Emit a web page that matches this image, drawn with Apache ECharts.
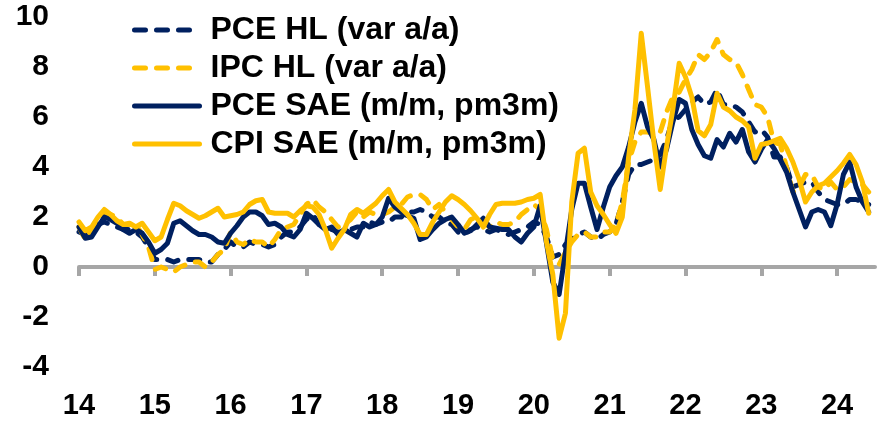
<!DOCTYPE html>
<html><head><meta charset="utf-8">
<script src="https://cdn.jsdelivr.net/npm/echarts@6/dist/echarts.min.js"></script>
<style>html,body{margin:0;padding:0;background:#fff}#c{width:884px;height:425px}</style>
</head><body><div id="c"></div>
<script>
// Year tick labels (one every 12 months, Jan of each year)
const yearLabels = ['14','15','16','17','18','19','20','21','22','23','24'];
const monthsInLastYear = 7; // axis runs to Jul-24

// Monthly data Jan-2014 .. Jun-2024
const pceHL = [
 1.4,1.3,1.5,1.7,1.8,1.7,1.6,1.5,1.5,1.4,1.2,0.8,
 0.3,0.3,0.3,0.2,0.3,0.3,0.3,0.3,0.2,0.2,0.5,0.7,
 1.0,0.8,0.8,1.0,0.9,0.9,0.8,0.9,1.2,1.4,1.4,1.6,
 1.9,2.1,1.7,1.7,1.5,1.4,1.4,1.5,1.6,1.6,1.8,1.7,
 1.8,1.8,2.0,2.0,2.2,2.2,2.3,2.2,2.0,2.0,1.8,1.7,
 1.4,1.3,1.5,1.6,1.5,1.4,1.5,1.4,1.3,1.4,1.5,1.6,
 1.8,1.7,1.2,0.4,0.5,0.9,1.1,1.3,1.4,1.2,1.1,1.3,
 1.4,1.7,2.6,3.7,4.1,4.1,4.2,4.3,4.5,5.1,5.9,6.0,
 6.3,6.6,6.8,6.5,6.6,7.1,6.5,6.5,6.4,6.2,5.8,5.4,
 5.5,5.2,4.4,4.4,4.0,3.2,3.3,3.4,3.4,3.0,2.7,2.6,
 2.5,2.5,2.7,2.7,2.6,2.5
];
const ipcHL = [
 1.6,1.1,1.5,2.0,2.1,2.1,2.0,1.7,1.7,1.7,1.3,0.8,
 -0.1,0.0,-0.1,-0.2,0.0,0.1,0.2,0.2,0.0,0.2,0.5,0.7,
 1.4,1.0,0.9,1.1,1.0,1.0,0.8,1.1,1.5,1.6,1.7,2.1,
 2.5,2.7,2.4,2.2,1.9,1.6,1.7,1.9,2.2,2.0,2.2,2.1,
 2.1,2.2,2.4,2.5,2.8,2.9,2.9,2.7,2.3,2.5,2.2,1.9,
 1.6,1.5,1.9,2.0,1.8,1.6,1.8,1.7,1.7,1.8,2.1,2.3,
 2.5,2.3,1.5,0.3,0.1,0.6,1.0,1.3,1.4,1.2,1.2,1.4,
 1.4,1.7,2.6,4.2,5.0,5.4,5.4,5.3,5.4,6.2,6.8,7.0,
 7.5,7.9,8.5,8.3,8.6,9.1,8.5,8.3,8.2,7.7,7.1,6.5,
 6.4,6.0,5.0,4.9,4.0,3.0,3.2,3.7,3.7,3.2,3.1,3.4,
 3.1,3.2,3.5,3.4,3.3,3.0
];
const pceSAE = [
 1.6,1.15,1.2,1.6,2.0,1.9,1.75,1.5,1.35,1.5,1.35,1.0,
 0.55,0.7,0.95,1.75,1.85,1.65,1.45,1.3,1.3,1.2,1.0,0.95,
 1.35,1.65,2.0,2.2,2.2,2.05,1.7,1.75,1.6,1.3,1.2,1.5,
 2.15,1.95,1.7,1.5,1.6,1.3,1.5,1.35,1.2,1.75,1.6,1.7,
 2.0,2.75,2.4,2.2,2.05,1.95,1.1,1.2,1.5,1.75,1.9,2.0,
 1.7,1.35,1.45,1.7,1.95,1.6,1.55,1.5,1.5,1.2,1.0,1.35,
 1.6,2.45,0.95,-0.6,-1.1,0.6,2.3,3.35,3.35,2.4,1.5,2.4,
 3.2,3.65,4.0,4.8,5.8,6.55,5.6,5.1,4.0,4.7,5.8,6.7,
 6.55,5.5,4.9,4.45,4.35,5.1,4.8,5.35,5.0,5.5,4.6,4.2,
 4.7,5.1,4.75,4.3,3.8,3.0,2.3,1.6,2.2,2.3,2.2,1.65,
 2.5,3.7,4.2,3.2,2.6,2.2
];
const cpiSAE = [
 1.8,1.45,1.6,2.0,2.3,2.1,1.85,1.7,1.75,1.6,1.75,1.4,
 1.05,1.2,1.9,2.55,2.45,2.25,2.1,1.95,2.05,2.2,2.35,2.0,
 2.05,2.1,2.2,2.5,2.65,2.7,2.2,2.15,2.15,2.15,2.0,2.25,
 2.45,2.4,2.1,1.5,0.75,1.15,1.5,2.1,2.3,2.15,2.35,2.55,
 2.85,3.1,2.6,2.35,2.1,1.75,1.3,1.3,1.8,2.2,2.6,2.85,
 2.7,2.5,2.25,1.95,1.6,2.1,2.5,2.55,2.55,2.55,2.6,2.7,
 2.75,2.9,1.0,-0.3,-2.85,-1.85,2.6,4.55,4.75,3.0,2.45,2.1,
 1.7,1.35,2.0,4.4,6.3,9.35,7.2,5.0,3.1,4.8,6.3,8.15,
 7.6,6.8,5.45,5.25,5.7,6.95,6.4,6.25,6.0,5.85,5.6,4.35,
 4.9,4.95,5.05,5.15,4.75,4.2,3.5,2.6,3.0,3.25,3.35,3.6,
 3.85,4.15,4.5,4.1,3.4,2.15
];

const seriesNames = ['PCE HL (var a/a)','IPC HL (var a/a)','PCE SAE (m/m, pm3m)','CPI SAE (m/m, pm3m)'];
const NAVY = '#002060', GOLD = '#FFC000', GREY = '#A6A6A6';
const FONT = 'Liberation Sans, Arial, sans-serif';

const categories = [];
yearLabels.forEach((y, yi) => {
  const n = yi === yearLabels.length - 1 ? monthsInLastYear : 12;
  for (let m = 1; m <= n; m++) categories.push(y + '-' + m);
});

const chart = echarts.init(document.getElementById('c'), null, {renderer: 'canvas'});
const mk = (name, data, color, dash) => ({
  name, type: 'line', data, xAxisIndex: 0, yAxisIndex: 0,
  symbol: 'none', showSymbol: false, smooth: false,
  lineStyle: {color, width: 5, type: dash ? [11, 11] : 'solid', cap: 'round', join: 'round'},
  itemStyle: {color}
});
const yearTick = (i) => i % 12 === 0;

chart.setOption({
  animation: false,
  backgroundColor: '#fff',
  grid: {left: 79, right: 9, top: 17, bottom: 58, containLabel: false, outerBoundsMode: 'none'},
  legend: {
    orient: 'vertical', left: 127, top: 9,
    itemWidth: 65, itemHeight: 14, itemGap: 6,
    itemStyle: {opacity: 0},
    lineStyle: {width: 5},
    textStyle: {fontSize: 32, lineHeight: 32, fontWeight: 'bold', color: '#000', fontFamily: FONT, padding: [0, 0, 0, 6]},
    data: seriesNames
  },
  xAxis: [
    {
      type: 'category', data: categories, boundaryGap: false, position: 'bottom',
      axisLine: {onZero: true, lineStyle: {color: GREY, width: 4}},
      axisTick: {show: true, length: 9, interval: yearTick, lineStyle: {color: GREY, width: 4}},
      axisLabel: {show: false},
      splitLine: {show: false}
    },
    {
      type: 'category', data: categories, boundaryGap: false, position: 'bottom',
      axisLine: {show: false, onZero: false},
      axisTick: {show: false},
      axisLabel: {
        interval: yearTick, margin: 24,
        formatter: (v) => v.split('-')[0],
        fontSize: 29, fontWeight: 'bold', color: '#000', fontFamily: FONT
      },
      splitLine: {show: false}
    }
  ],
  yAxis: {
    type: 'value', min: -4, max: 10, interval: 2,
    axisLine: {show: false}, axisTick: {show: false}, splitLine: {show: false},
    axisLabel: {fontSize: 30, fontWeight: 'bold', color: '#000', fontFamily: FONT, margin: 30}
  },
  series: [
    mk(seriesNames[0], pceHL, NAVY, true),
    mk(seriesNames[1], ipcHL, GOLD, true),
    mk(seriesNames[2], pceSAE, NAVY, false),
    mk(seriesNames[3], cpiSAE, GOLD, false)
  ]
});
</script></body></html>
